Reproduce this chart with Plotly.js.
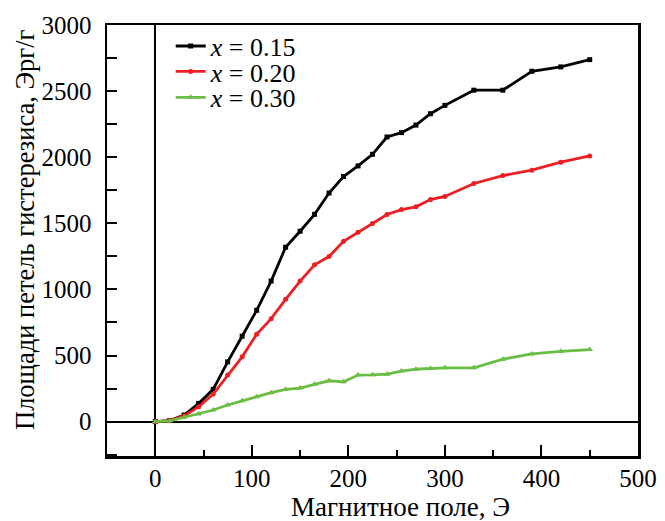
<!DOCTYPE html>
<html>
<head>
<meta charset="utf-8">
<script src="https://cdn.plot.ly/plotly-3.0.1.min.js"></script>
<style>html,body{margin:0;padding:0;background:#fff;}#chart{width:665px;height:521px;}</style>
</head>
<body>
<div id="chart"></div>
<script>
// Magnetic field, Oe
var field015 = [0, 15, 30, 45, 60, 75, 90, 105, 120, 135, 150, 165, 180, 195, 210, 225, 240, 255, 270, 285, 300, 330, 360, 390, 420, 450];
var area015  = [0, 8, 50, 138, 244, 452, 646, 842, 1063, 1319, 1440, 1568, 1729, 1854, 1934, 2022, 2153, 2186, 2243, 2329, 2392, 2507, 2507, 2650, 2683, 2738];

var field020 = [0, 15, 30, 45, 60, 75, 90, 105, 120, 135, 150, 165, 180, 195, 210, 225, 240, 255, 270, 285, 300, 330, 360, 390, 420, 450];
var area020  = [0, 8, 43, 113, 209, 352, 490, 661, 779, 925, 1063, 1186, 1249, 1364, 1432, 1498, 1567, 1604, 1625, 1680, 1703, 1801, 1861, 1902, 1962, 2010];

var field030 = [0, 15, 30, 45, 60, 75, 90, 105, 120, 135, 150, 165, 180, 195, 210, 225, 240, 255, 270, 285, 300, 330, 360, 390, 420, 450];
var area030  = [0, 5, 33, 58, 88, 126, 158, 188, 219, 244, 254, 282, 309, 301, 352, 354, 359, 382, 397, 402, 407, 407, 472, 512, 532, 545];

var seriesNames = ['<i>x</i> = 0.15', '<i>x</i> = 0.20', '<i>x</i> = 0.30'];
var xTickVals = [0, 100, 200, 300, 400, 500];
var yTickVals = [0, 500, 1000, 1500, 2000, 2500, 3000];
var xTitle = 'Магнитное поле, Э';
var yTitle = 'Площади петель гистерезиса, Эрг/г';

var serif = 'Liberation Serif, Times New Roman, serif';

var traces = [
  {x: field015, y: area015, name: seriesNames[0], mode: 'lines+markers', legend: 'legend',
   line: {color: '#000000', width: 2.8}, marker: {symbol: 'square', size: 5, color: '#000000'}},
  {x: field020, y: area020, name: seriesNames[1], mode: 'lines+markers', legend: 'legend2',
   line: {color: '#ee1f24', width: 2.8}, marker: {symbol: 'circle', size: 5, color: '#ee1f24'}},
  {x: field030, y: area030, name: seriesNames[2], mode: 'lines+markers', legend: 'legend3',
   line: {color: '#6abd45', width: 2.8}, marker: {symbol: 'triangle-up', size: 6, color: '#6abd45'}}
];

function legendAt(yc) {
  return {x: 0.12, y: yc, xanchor: 'left', yanchor: 'middle', bgcolor: 'rgba(0,0,0,0)',
          borderwidth: 0, font: {family: serif, size: 26, color: '#000'}, itemwidth: 30};
}

var layout = {
  width: 665, height: 521,
  margin: {l: 107, r: 27, t: 25, b: 65, pad: 0},
  paper_bgcolor: '#ffffff', plot_bgcolor: '#ffffff',
  font: {family: serif, size: 25, color: '#000000'},
  showlegend: true,
  legend: legendAt(0.951),
  legend2: legendAt(0.892),
  legend3: legendAt(0.832),
  xaxis: {
    range: [-50, 500], tickvals: xTickVals, ticktext: xTickVals.map(String),
    showgrid: false, zeroline: true, zerolinecolor: '#000', zerolinewidth: 2,
    showline: true, linecolor: '#000', linewidth: 2.5, mirror: true,
    ticks: 'inside', ticklen: 11, tickwidth: 2, tickcolor: '#000',
    minor: {dtick: 50, tick0: 0, ticks: 'inside', ticklen: 6, tickwidth: 2, tickcolor: '#000', showgrid: false},
    tickfont: {family: serif, size: 25}, ticklabelstandoff: -2
  },
  yaxis: {
    range: [-260, 3000], tickvals: yTickVals, ticktext: yTickVals.map(String),
    showgrid: false, zeroline: true, zerolinecolor: '#000', zerolinewidth: 2,
    showline: true, linecolor: '#000', linewidth: 2.5, mirror: true,
    ticks: 'inside', ticklen: 10, tickwidth: 2, tickcolor: '#000',
    minor: {dtick: 250, tick0: 0, ticks: 'inside', ticklen: 10, tickwidth: 2, tickcolor: '#000', showgrid: false},
    tickfont: {family: serif, size: 25}, ticklabelstandoff: 8
  },
  annotations: [
    {text: xTitle, xref: 'paper', yref: 'paper', x: 0.552, y: -0.118, xanchor: 'center', yanchor: 'middle',
     showarrow: false, font: {family: serif, size: 27, color: '#000'}},
    {text: yTitle, xref: 'paper', yref: 'paper', x: -0.1544, y: 0.5244, xanchor: 'center', yanchor: 'middle',
     textangle: -90, showarrow: false, font: {family: serif, size: 26.5, color: '#000'}}
  ]
};

Plotly.newPlot('chart', traces, layout, {staticPlot: true, displayModeBar: false});
</script>
</body>
</html>
